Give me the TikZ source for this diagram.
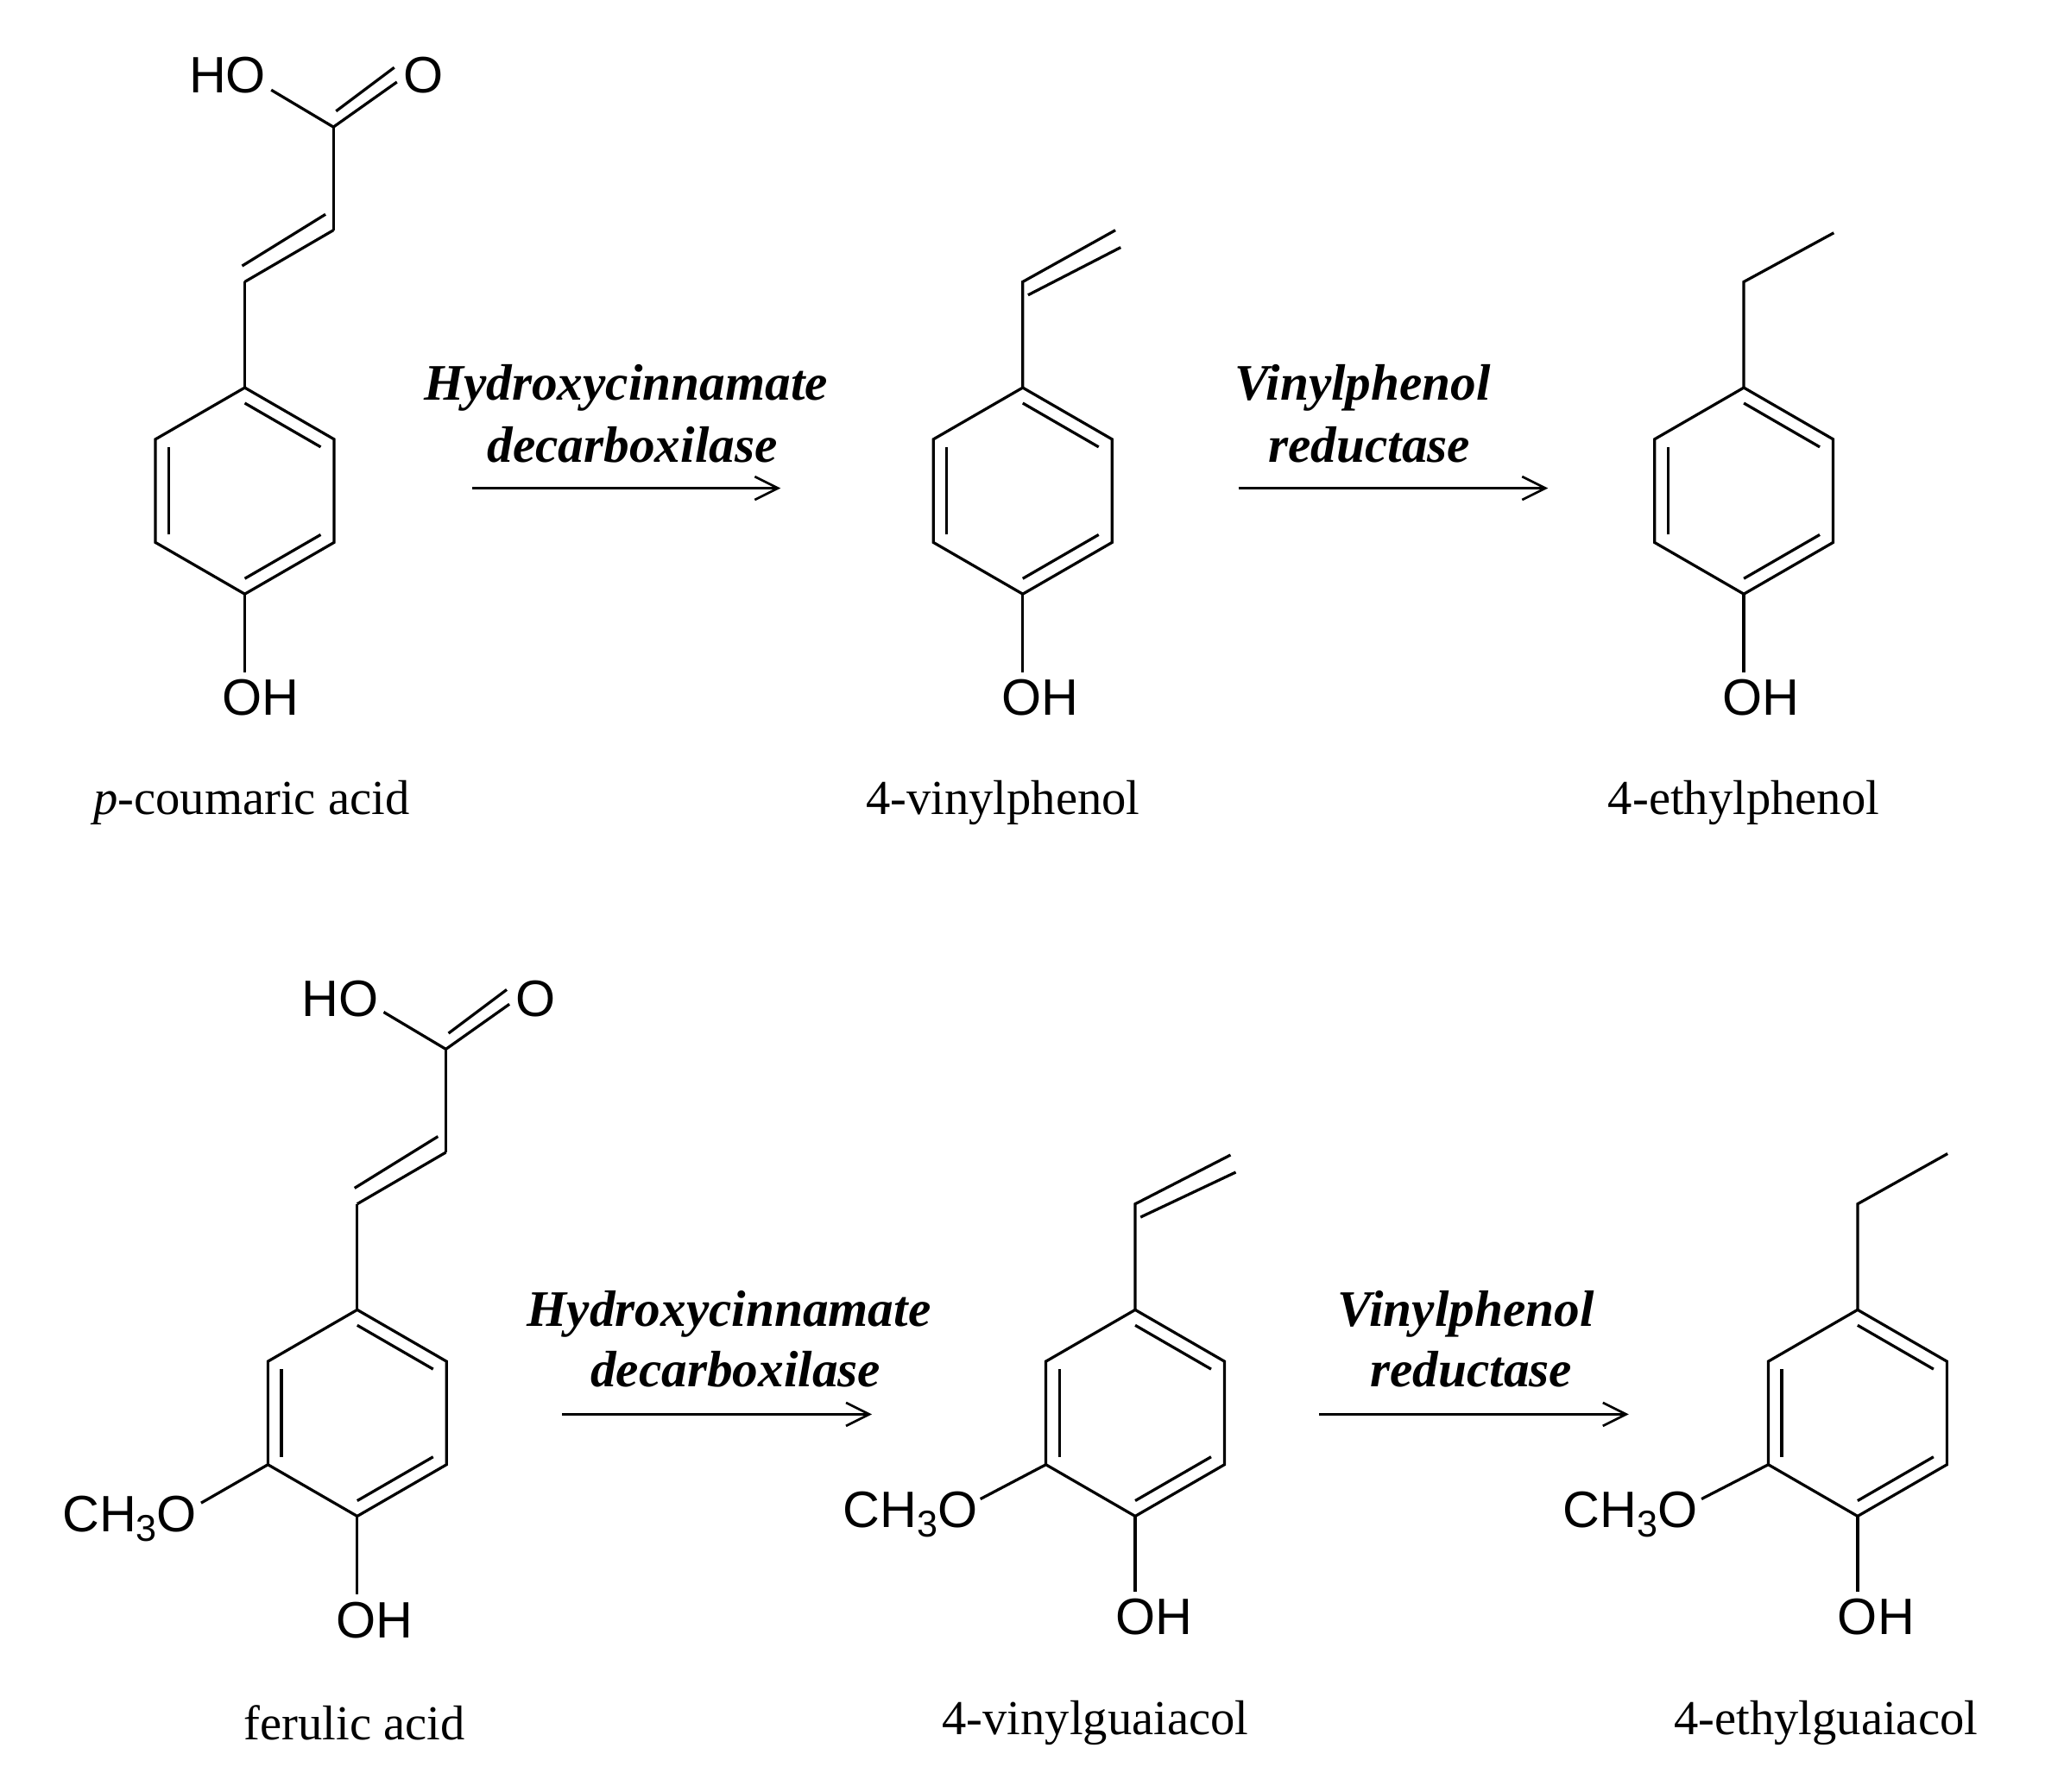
\documentclass[tikz,border=0pt]{standalone}
\usepackage{fontspec}
\setmainfont{Liberation Serif}
\newfontfamily\atomfont{Liberation Sans}
\usetikzlibrary{calc,arrows.meta}
\tikzset{
  bond/.style={line width=0.6pt},
  atom/.style={font=\atomfont\fontsize{11}{13}\selectfont, inner sep=0pt},
  cname/.style={font=\fontsize{10.5}{13}\selectfont, inner sep=0pt},
  enz/.style={font=\bfseries\itshape\fontsize{11}{13}\selectfont, inner sep=0pt},
  rxn/.style={line width=0.5pt, -{Straight Barb[length=5pt,width=5pt]}}
}
\newcommand\sbthree{\raisebox{-0.35ex}{\fontsize{8}{8}\selectfont 3}}
\newcommand\benz[3]{%
  \coordinate (#1t) at (#2,#3);
  \coordinate (#1ur) at ($(#2,#3)+(67.5,39)$);
  \coordinate (#1lr) at ($(#2,#3)+(67.5,117)$);
  \coordinate (#1b) at ($(#2,#3)+(0,156)$);
  \coordinate (#1ll) at ($(#2,#3)+(-67.5,117)$);
  \coordinate (#1ul) at ($(#2,#3)+(-67.5,39)$);
  \coordinate (#1c) at ($(#2,#3)+(0,78)$);
  \draw[bond] (#1t)--(#1ur)--(#1lr)--(#1b)--(#1ll)--(#1ul)--cycle;
  \draw[bond] ($(#1c)!0.85!(#1t)$)--($(#1c)!0.85!(#1ur)$);
  \draw[bond] ($(#1c)!0.85!(#1lr)$)--($(#1c)!0.85!(#1b)$);
  \draw[bond] ($(#1c)!0.85!(#1ll)$)--($(#1c)!0.85!(#1ul)$);
}
\begin{document}
\begin{tikzpicture}[x=0.01cm,y=-0.01cm]
\useasboundingbox (0,0) rectangle (1560,1354);
% ---------- p-coumaric acid
\benz{a}{185}{293}
\coordinate (a1) at (185,213); \coordinate (a2) at (252,174);
\coordinate (a3) at (252,96);
\node[atom] (aHO) at (172,57) {HO};
\node[atom] (aO) at (320,57) {O};
\node[atom] (aOH) at (197,527) {OH};
\draw[bond] (at)--(a1); \draw[bond] (a2)--(a3);
\draw[bond] (a1)--(a2);
\draw[bond] ($(a1)+(-2,-12)$)--($(a2)+(-6,-12)$);
\draw[bond] (a3)--(205,68);
\draw[bond] (a3)--(300,62); \draw[bond] ($(a3)+(2,-12)$)--($(300,62)+(-2,-11)$);
\draw[bond] (ab)--(185,508);
\node[cname] (na) at (190,607) {\textit{p}-coumaric acid};
% ---------- 4-vinylphenol
\benz{b}{773}{293}
\coordinate (b1) at (773,213); \coordinate (b2) at (843,174);
\draw[bond] (bt)--(b1)--(b2);
\draw[bond] ($(b1)+(4,10)$)--($(b2)+(4,13)$);
\node[atom] (bOH) at (786,527) {OH};
\draw[bond] (bb)--(773,508);
\node[cname] (nb) at (758,607) {4-vinylphenol};
% ---------- 4-ethylphenol
\benz{c}{1318}{293}
\coordinate (c1) at (1318,213); \coordinate (c2) at (1386,176);
\draw[bond] (ct)--(c1)--(c2);
\node[atom] (cOH) at (1331,527) {OH};
\draw[bond] (cb)--(1318,508);
\node[cname] (nc) at (1318,607) {4-ethylphenol};
% arrows row 1
\coordinate (r1s) at (357,369); \coordinate (r1e) at (590,369);
\draw[rxn] (r1s)--(r1e);
\node[enz] (e1a) at (473,293) {Hydroxycinnamate};
\node[enz] (e1b) at (478,336) {decarboxilase};
\coordinate (r2s) at (936,369); \coordinate (r2e) at (1170,369);
\draw[rxn] (r2s)--(r2e);
\node[enz] (e2a) at (1030,293) {Vinylphenol};
\node[enz] (e2b) at (1035,336) {reductase};
% ---------- ferulic acid
\benz{d}{270}{990}
\coordinate (d1) at (270,910); \coordinate (d2) at (337,871);
\coordinate (d3) at (337,793);
\node[atom] (dHO) at (257,755) {HO};
\node[atom] (dO) at (405,755) {O};
\node[atom] (dOH) at (283,1225) {OH};
\node[atom] (dMe) at (98,1148) {CH\sbthree O};
\draw[bond] (dt)--(d1); \draw[bond] (d2)--(d3);
\draw[bond] (d1)--(d2);
\draw[bond] ($(d1)+(-2,-12)$)--($(d2)+(-6,-12)$);
\draw[bond] (d3)--(290,765);
\draw[bond] (d3)--(385,759); \draw[bond] ($(d3)+(2,-12)$)--($(385,759)+(-2,-11)$);
\draw[bond] (db)--(270,1205);
\draw[bond] (dll)--(152,1136);
\node[cname] (nd) at (268,1302) {ferulic acid};
% ---------- 4-vinylguaiacol
\benz{e}{858}{990}
\coordinate (e1) at (858,910); \coordinate (e2) at (930,873);
\draw[bond] (et)--(e1)--(e2);
\draw[bond] ($(e1)+(4,10)$)--($(e2)+(4,13)$);
\node[atom] (eOH) at (872,1222) {OH};
\node[atom] (eMe) at (688,1145) {CH\sbthree O};
\draw[bond] (eb)--(858,1203);
\draw[bond] (ell)--(741,1133);
\node[cname] (ne) at (828,1302) {4-vinylguaiacol};
% ---------- 4-ethylguaiacol
\benz{f}{1404}{990}
\coordinate (f1) at (1404,910); \coordinate (f2) at (1472,872);
\draw[bond] (ft)--(f1)--(f2);
\node[atom] (fOH) at (1418,1222) {OH};
\node[atom] (fMe) at (1232,1145) {CH\sbthree O};
\draw[bond] (fb)--(1404,1203);
\draw[bond] (fll)--(1286,1133);
\node[cname] (nf) at (1380,1302) {4-ethylguaiacol};
% arrows row 2
\coordinate (r3s) at (425,1069); \coordinate (r3e) at (659,1069);
\draw[rxn] (r3s)--(r3e);
\node[enz] (e3a) at (551,993) {Hydroxycinnamate};
\node[enz] (e3b) at (556,1035) {decarboxilase};
\coordinate (r4s) at (997,1069); \coordinate (r4e) at (1231,1069);
\draw[rxn] (r4s)--(r4e);
\node[enz] (e4a) at (1108,993) {Vinylphenol};
\node[enz] (e4b) at (1112,1035) {reductase};
\end{tikzpicture}
\end{document}
